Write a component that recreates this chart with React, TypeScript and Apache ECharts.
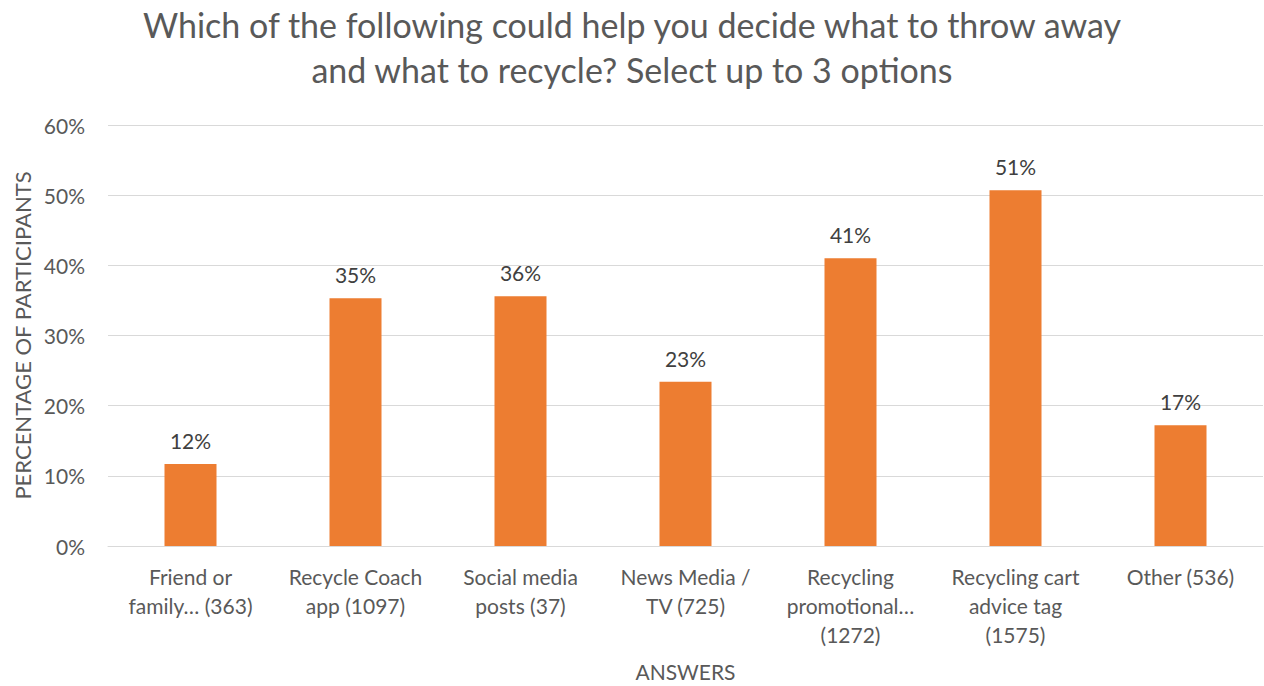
import React, { useEffect, useRef } from "react";
import * as echarts from "echarts";

const titleText = "Which of the following could help you decide what to throw away\nand what to recycle? Select up to 3 options";
const categories = [
  "Friend or\nfamily… (363)",
  "Recycle Coach\napp (1097)",
  "Social media\nposts (37)",
  "News Media /\nTV (725)",
  "Recycling\npromotional…\n(1272)",
  "Recycling cart\nadvice tag\n(1575)",
  "Other (536)",
];
const values = [11.7, 35.3, 35.6, 23.4, 41.0, 50.7, 17.2];
const yTicks = [0, 10, 20, 30, 40, 50, 60];

const FONT = "Lato";

export default function App() {
  const ref = useRef<HTMLDivElement>(null);
  useEffect(() => {
    if (!ref.current) return;
    const chart = echarts.init(ref.current, undefined, { renderer: "svg" });
    chart.setOption({
      animation: false,
      textStyle: { fontFamily: FONT },
      title: {
        text: titleText,
        left: "center",
        top: -3,
        textStyle: {
          fontFamily: FONT,
          fontSize: 34,
          fontWeight: "normal",
          color: "#595959",
          lineHeight: 45,
        },
      },
      grid: {
        left: 108,
        right: 1,
        top: 125,
        bottom: 140,
        containLabel: false,
        outerBoundsMode: "none",
      },
      xAxis: {
        type: "category",
        data: categories,
        name: "ANSWERS",
        nameLocation: "middle",
        nameGap: 115,
        nameMoveOverlap: false,
        nameTextStyle: { fontSize: 21, color: "#595959", fontFamily: FONT, lineHeight: 21 },
        axisLine: { show: true, lineStyle: { color: "#D9D9D9", width: 1 } },
        axisTick: { show: false },
        axisLabel: {
          interval: 0,
          fontSize: 21,
          color: "#595959",
          lineHeight: 29,
          margin: 16,
          fontFamily: FONT,
        },
      },
      yAxis: {
        type: "value",
        min: yTicks[0],
        max: yTicks[yTicks.length - 1],
        interval: 10,
        name: "PERCENTAGE OF PARTICIPANTS",
        nameLocation: "middle",
        nameGap: 75,
        nameMoveOverlap: false,
        nameRotate: 90,
        nameTextStyle: { fontSize: 22, color: "#595959", fontFamily: FONT },
        axisLine: { show: false },
        axisTick: { show: false },
        axisLabel: {
          formatter: (v: number) => `${v}%`,
          fontSize: 21,
          color: "#595959",
          margin: 23,
          fontFamily: FONT,
        },
        splitLine: { lineStyle: { color: "#D9D9D9", width: 1 } },
      },
      series: [
        {
          type: "bar",
          data: values,
          barWidth: 52,
          itemStyle: { color: "#ED7D31" },
          label: {
            show: true,
            position: "top",
            distance: 13,
            formatter: (p: any) => `${Math.round(p.value)}%`,
            fontSize: 21,
            color: "#404040",
            fontFamily: FONT,
          },
        },
      ],
    });
    return () => chart.dispose();
  }, []);
  return (
    <div
      ref={ref}
      style={{ position: "fixed", left: 0, top: 0, width: 1264, height: 686, background: "#fff" }}
    />
  );
}
